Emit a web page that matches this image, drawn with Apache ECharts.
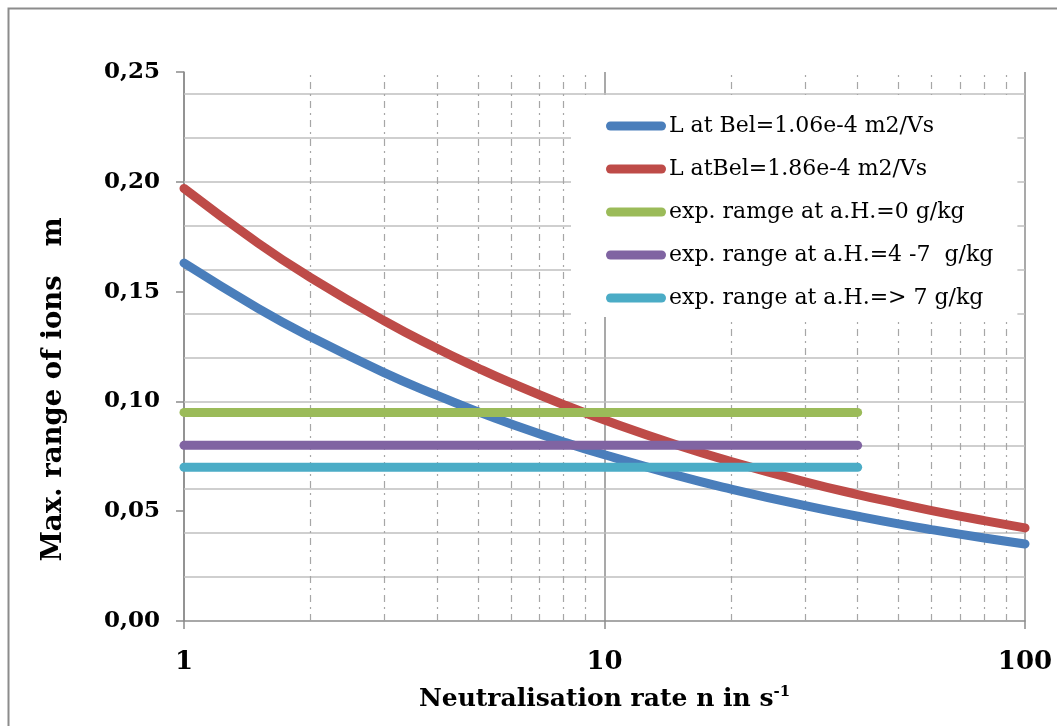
<!DOCTYPE html>
<html>
<head>
<meta charset="utf-8">
<script src="https://cdn.jsdelivr.net/npm/echarts@6/dist/echarts.min.js"></script>
<style>html,body{margin:0;padding:0;background:#fff;}#c{width:1057px;height:726px;}</style>
</head>
<body>
<div id="c"></div>
<script>
// Neutralisation rate n (s^-1) sample points
const nValues = [1, 1.5, 2, 3, 4, 5, 6, 8, 10, 15, 20, 30, 40, 50, 60, 80, 100];
// L at Bel=1.06e-4 m2/Vs (blue)
const blueValues = [0.163, 0.1424, 0.1294, 0.1130, 0.1027, 0.0953, 0.0897, 0.0815, 0.0757, 0.0661, 0.0601, 0.0525, 0.0477, 0.0442, 0.0416, 0.0378, 0.0351];
// L atBel=1.86e-4 m2/Vs (red)
const redValues = [0.197, 0.1721, 0.1564, 0.1366, 0.1241, 0.1152, 0.1084, 0.0985, 0.0915, 0.0799, 0.0726, 0.0634, 0.0576, 0.0535, 0.0503, 0.0457, 0.0424];
// experimental ranges (horizontal lines from n=1 to n=40)
const expRangeN = [1, 40];
const greenValue = 0.095;
const purpleValue = 0.08;
const cyanValue = 0.07;
const seriesNames = [
  'L at Bel=1.06e-4 m2/Vs',
  'L atBel=1.86e-4 m2/Vs',
  'exp. ramge at a.H.=0 g/kg',
  'exp. range at a.H.=4 -7  g/kg',
  'exp. range at a.H.=> 7 g/kg'
];
const colors = ['#4a7ebb', '#be4b48', '#9bbb59', '#8064a2', '#4bacc6'];
const hGridValues = [0.02, 0.04, 0.06, 0.08, 0.10, 0.12, 0.14, 0.16, 0.18, 0.20, 0.22, 0.24];
const vMinorValues = [2, 3, 4, 5, 6, 7, 8, 9, 20, 30, 40, 50, 60, 70, 80, 90];

const serif = '"DejaVu Serif", "Liberation Serif", serif';
const chart = echarts.init(document.getElementById('c'), null, {renderer: 'canvas'});

function curve(vals) { return nValues.map((n, i) => [n, vals[i]]); }
function flat(v) { return expRangeN.map(n => [n, v]); }

const lineSeries = [blueValues, redValues].map((vals, i) => ({
  name: seriesNames[i], type: 'line', data: curve(vals), smooth: true, symbol: 'none',
  lineStyle: {width: 9, color: colors[i], cap: 'round'}, itemStyle: {color: colors[i]}, z: 3
})).concat([greenValue, purpleValue, cyanValue].map((v, k) => ({
  name: seriesNames[k + 2], type: 'line', data: flat(v), symbol: 'none',
  lineStyle: {width: 9, color: colors[k + 2], cap: 'round'}, itemStyle: {color: colors[k + 2]}, z: 3
})));

const iconPath = 'path://M4.5,0 L55.5,0 A4.5,4.5 0 0 1 55.5,9 L4.5,9 A4.5,4.5 0 0 1 4.5,0 Z';

chart.setOption({
  animation: false,
  backgroundColor: '#fff',
  graphic: [{
    type: 'rect', shape: {x: 8.5, y: 8.5, width: 1200, height: 1000},
    style: {fill: 'none', stroke: '#8c8c8c', lineWidth: 2}, silent: true, z: -1
  }],
  grid: {left: 184, right: 32, top: 72, bottom: 105, containLabel: false},
  legend: {
    data: seriesNames.map(n => ({name: n, icon: iconPath})),
    orient: 'vertical', left: 571, top: 95, z: 10,
    itemWidth: 60, itemHeight: 9, itemGap: 19,
    backgroundColor: '#fff', padding: [19, 24, 7, 35],
    textStyle: {fontFamily: serif, fontSize: 22, color: '#000', lineHeight: 24, padding: [0, 0, 0, -2]}
  },
  xAxis: {
    type: 'log', logBase: 10, min: 1, max: 100,
    axisLine: {show: true, lineStyle: {color: '#8c8c8c', width: 1.5}},
    axisTick: {show: true, length: 8, inside: false, lineStyle: {color: '#8c8c8c', width: 1.5}},
    axisLabel: {fontFamily: serif, fontWeight: 'bold', fontSize: 26, color: '#000', margin: 28},
    splitLine: {show: true, lineStyle: {color: '#8c8c8c', width: 1.5}},
    name: '{a|Neutralisation rate n in s}{b|-1}',
    nameLocation: 'middle', nameGap: 64,
    nameTextStyle: {
      rich: {
        a: {fontFamily: serif, fontWeight: 'bold', fontSize: 25, color: '#000'},
        b: {fontFamily: serif, fontWeight: 'bold', fontSize: 15, color: '#000', verticalAlign: 'top', padding: [0, 0, 13, 0]}
      }
    }
  },
  yAxis: {
    type: 'value', min: 0, max: 0.25, interval: 0.05,
    axisLine: {show: true, lineStyle: {color: '#8c8c8c', width: 1.5}},
    axisTick: {show: true, length: 8, lineStyle: {color: '#8c8c8c', width: 1.5}},
    axisLabel: {fontFamily: serif, fontWeight: 'bold', fontSize: 23, color: '#000', margin: 24,
      formatter: v => v.toFixed(2).replace('.', ',')},
    splitLine: {show: false},
    name: 'Max. range of ions   m', nameLocation: 'middle', nameGap: 116, nameRotate: 90,
    nameTextStyle: {fontFamily: serif, fontWeight: 'bold', fontSize: 27.5, color: '#000', padding: [0, 86, 0, 0]}
  },
  series: [{
    name: '__grid', type: 'line', data: [], symbol: 'none', silent: true, z: 1,
    markLine: {
      silent: true, symbol: 'none', label: {show: false}, animation: false, z: 1,
      data: hGridValues.map(v => ({yAxis: v, lineStyle: {color: '#bfbfbf', width: 1.5, type: 'solid'}}))
        .concat(vMinorValues.map(v => ({xAxis: v, lineStyle: {color: '#a6a6a6', width: 1.2, type: [7, 5, 2, 5]}})))
    }
  }].concat(lineSeries)
});
</script>
</body>
</html>
